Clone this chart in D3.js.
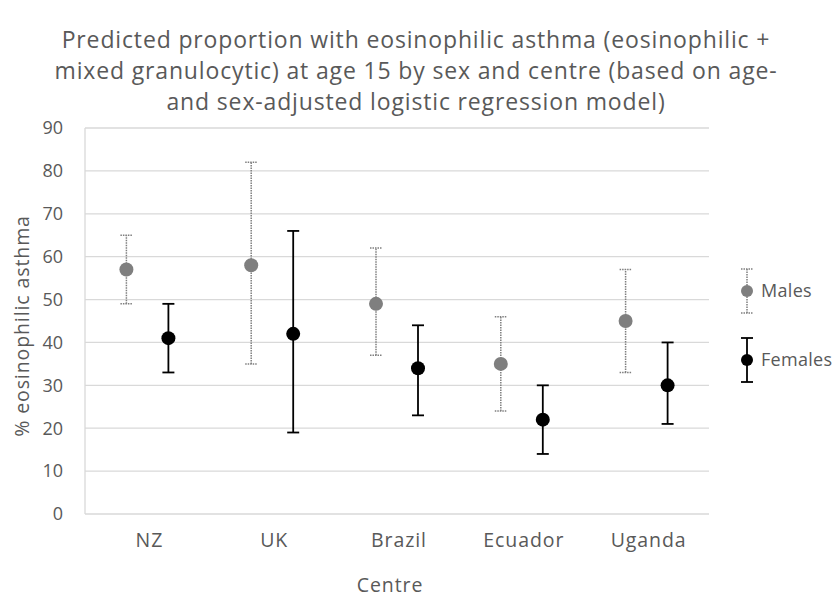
<!DOCTYPE html>
<html>
<head>
<meta charset="utf-8">
<script src="https://cdn.jsdelivr.net/npm/d3@7"></script>
<style>
    body { margin: 0; background: #fff; }
    text { font-family: "Open Sans", sans-serif; fill: #595959; }
    .label { font-size: 19.5px; letter-spacing: 0.9px; }
</style>
</head>
<body>
<svg id="chart" width="834" height="600"></svg>
<script>
// chart data
const centres = ["NZ", "UK", "Brazil", "Ecuador", "Uganda"];
const males_value = [57, 58, 49, 35, 45];
const males_low = [49, 35, 37, 24, 33];
const males_high = [65, 82, 62, 46, 57];
const females_value = [41, 42, 34, 22, 30];
const females_low = [33, 19, 23, 14, 21];
const females_high = [49, 66, 44, 30, 40];
const y_ticks = [0, 10, 20, 30, 40, 50, 60, 70, 80, 90];
const title_lines = [
    "Predicted proportion with eosinophilic asthma (eosinophilic +",
    "mixed granulocytic) at age 15 by sex and centre (based on age-",
    "and sex-adjusted logistic regression model)"
];

const svg = d3.select("#chart");
const plot = {left: 85, right: 709, top: 128, bottom: 514};

const x_scale = d3.scaleBand()
    .domain(centres)
    .range([plot.left, plot.right]);

const y_scale = d3.scaleLinear()
    .domain([0, 90])
    .range([plot.bottom, plot.top]);

// gridlines
svg.append("g")
    .selectAll("line")
    .data(y_ticks)
    .enter().append("line")
        .attr("x1", plot.left)
        .attr("x2", plot.right)
        .attr("y1", d => y_scale(d))
        .attr("y2", d => y_scale(d))
        .style("stroke", "#d9d9d9")
        .style("stroke-width", 1.3);

// y axis line
svg.append("line")
    .attr("x1", plot.left).attr("x2", plot.left)
    .attr("y1", plot.top).attr("y2", plot.bottom)
    .style("stroke", "#d9d9d9")
    .style("stroke-width", 1.3);

// y tick labels
svg.append("g")
    .selectAll("text")
    .data(y_ticks)
    .enter().append("text")
        .attr("x", plot.left - 22)
        .attr("y", d => y_scale(d))
        .attr("dy", "0.35em")
        .style("text-anchor", "end")
        .style("font-size", "18px")
        .text(d => d);

// x tick labels
svg.append("g")
    .selectAll("text")
    .data(centres)
    .enter().append("text")
        .attr("class", "label")
        .attr("x", d => x_scale(d) + x_scale.bandwidth() / 2 + 2)
        .attr("y", plot.bottom + 33)
        .style("text-anchor", "middle")
        .text(d => d);

// axis titles
svg.append("text")
    .attr("class", "label")
    .attr("x", 390)
    .attr("y", 592)
    .style("text-anchor", "middle")
    .text("Centre");

svg.append("text")
    .attr("class", "label")
    .attr("transform", "translate(29,326) rotate(-90)")
    .style("text-anchor", "middle")
    .text("% eosinophilic asthma");

// chart title
svg.append("g")
    .selectAll("text")
    .data(title_lines)
    .enter().append("text")
        .attr("x", 416)
        .attr("y", (d, i) => 48 + i * 31)
        .style("text-anchor", "middle")
        .style("font-size", "23px")
        .style("letter-spacing", "0.85px")
        .text(d => d);

// one series of points with error bars
function drawSeries(values, lows, highs, offset, colour, dash, stroke_w) {
    const g = svg.append("g");
    const cx = i => x_scale(centres[i]) + x_scale.bandwidth() / 2 + offset;

    g.selectAll(".bar")
        .data(values)
        .enter().append("line")
            .attr("x1", (d, i) => cx(i))
            .attr("x2", (d, i) => cx(i))
            .attr("y1", (d, i) => y_scale(lows[i]))
            .attr("y2", (d, i) => y_scale(highs[i]))
            .style("stroke", colour)
            .style("stroke-width", stroke_w)
            .style("stroke-dasharray", dash);

    [lows, highs].forEach(ends => {
        g.selectAll(null)
            .data(values)
            .enter().append("line")
                .attr("x1", (d, i) => cx(i) - 6)
                .attr("x2", (d, i) => cx(i) + 6)
                .attr("y1", (d, i) => y_scale(ends[i]))
                .attr("y2", (d, i) => y_scale(ends[i]))
                .style("stroke", colour)
                .style("stroke-width", stroke_w)
                .style("stroke-dasharray", dash);
    });

    g.selectAll("circle")
        .data(values)
        .enter().append("circle")
            .attr("cx", (d, i) => cx(i))
            .attr("cy", d => y_scale(d))
            .attr("r", 7)
            .style("fill", colour);
}

drawSeries(males_value, males_low, males_high, -21, "#7f7f7f", "1.5,1", 1.5);
drawSeries(females_value, females_low, females_high, 21, "#000", null, 1.8);

// legend
const legend = [
    {name: "Males", y: 291, colour: "#7f7f7f", dash: "1.5,1", w: 1.5},
    {name: "Females", y: 360, colour: "#000", dash: null, w: 1.8}
];
legend.forEach(d => {
    const g = svg.append("g").attr("transform", "translate(747," + d.y + ")");
    g.append("line").attr("x1", 0).attr("x2", 0).attr("y1", -22).attr("y2", 22)
        .style("stroke", d.colour).style("stroke-width", d.w).style("stroke-dasharray", d.dash);
    [-22, 22].forEach(yy => {
        g.append("line").attr("x1", -6).attr("x2", 6).attr("y1", yy).attr("y2", yy)
            .style("stroke", d.colour).style("stroke-width", d.w).style("stroke-dasharray", d.dash);
    });
    g.append("circle").attr("r", 6).style("fill", d.colour);
    g.append("text")
        .attr("x", 14)
        .attr("dy", "0.35em")
        .style("font-size", "18px")
        .style("letter-spacing", "0.3px")
        .text(d.name);
});
</script>
</body>
</html>
